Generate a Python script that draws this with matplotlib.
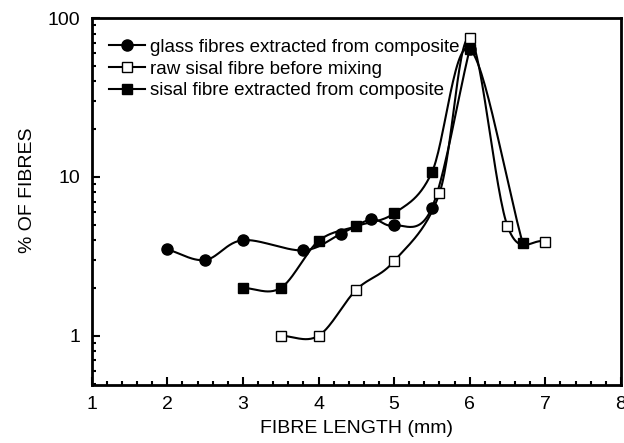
import numpy as np
import matplotlib
matplotlib.use("Agg")
import matplotlib.pyplot as plt
from matplotlib.ticker import FixedLocator, NullFormatter, MultipleLocator

plt.rcParams['font.family'] = ['Liberation Sans', 'DejaVu Sans']

glass_x = [2.0, 2.5, 3.0, 3.8, 4.3, 4.7, 5.0, 5.5, 6.0]
glass_y = [3.5, 3.0, 4.0, 3.45, 4.4, 5.4, 4.95, 6.4, 64]

raw_x = [3.5, 4.0, 4.5, 5.0, 5.6, 6.0, 6.5, 7.0]
raw_y = [1.0, 1.0, 1.95, 2.95, 7.9, 75, 4.9, 3.9]

sisal_x = [3.0, 3.5, 4.0, 4.5, 5.0, 5.5, 6.0, 6.7]
sisal_y = [2.0, 2.0, 3.95, 4.9, 5.9, 10.7, 64, 3.85]

labels = ["glass fibres extracted from composite",
          "raw sisal fibre before mixing",
          "sisal fibre extracted from composite"]


def smooth(xs, ys, n=30):
    """Catmull-Rom curve through the points in (x, log y) space."""
    P = np.column_stack([np.asarray(xs, float), np.log10(ys)])
    ext = np.vstack([2 * P[0] - P[1], P, 2 * P[-1] - P[-2]])
    out = []
    for i in range(1, len(ext) - 2):
        p0, p1, p2, p3 = ext[i - 1], ext[i], ext[i + 1], ext[i + 2]
        t = np.linspace(0, 1, n)[:, None]
        seg = 0.5 * ((2 * p1) + (-p0 + p2) * t + (2 * p0 - 5 * p1 + 4 * p2 - p3) * t ** 2
                     + (-p0 + 3 * p1 - 3 * p2 + p3) * t ** 3)
        out.append(seg)
    S = np.vstack(out)
    return S[:, 0], 10 ** S[:, 1]


fig = plt.figure(figsize=(6.24, 4.43), dpi=100)
ax = fig.add_axes([0.147, 0.131, 0.848, 0.828])

series = [
    (glass_x, glass_y, dict(marker='o', mfc='black', mec='black', ms=8)),
    (raw_x, raw_y, dict(marker='s', mfc='white', mec='black', ms=7, mew=1)),
    (sisal_x, sisal_y, dict(marker='s', mfc='black', mec='black', ms=7)),
]
for (xs, ys, st), lab in zip(series, labels):
    sx, sy = smooth(xs, ys)
    ax.plot(sx, sy, color='black', lw=1.5, zorder=2)
    ax.plot(xs, ys, linestyle='none', zorder=3, **st)
    ax.plot([], [], color='black', lw=1.5, label=lab, **st)

ax.set_yscale('log')
ax.set_xlim(1, 8)
ax.set_ylim(0.49, 100)
ax.xaxis.set_major_locator(MultipleLocator(1))
ax.xaxis.set_minor_locator(MultipleLocator(0.2))
ax.yaxis.set_major_locator(FixedLocator([1, 10, 100]))
ax.yaxis.set_minor_locator(FixedLocator([m * d for d in [0.1, 1, 10] for m in range(2, 10)]))
ax.yaxis.set_minor_formatter(NullFormatter())
ax.set_yticklabels(['1', '10', '100'])
ax.tick_params(which='both', direction='in', top=False, right=False, width=1.5, labelsize=14, pad=8)
ax.tick_params(which='major', length=6)
ax.tick_params(which='minor', length=3)
for s in ax.spines.values():
    s.set_linewidth(2)

ax.set_xlabel('FIBRE LENGTH (mm)', fontsize=14, labelpad=5)
ax.set_ylabel('% OF FIBRES', fontsize=14, labelpad=10)
ax.yaxis.set_label_coords(-0.105, 0.53)

ax.legend(loc='upper left', frameon=False, fontsize=13.5, handlelength=1.9, handletextpad=0.3,
          labelspacing=0.25, borderaxespad=0.3, bbox_to_anchor=(0.008, 0.98))

fig.savefig('out.png', dpi=100)
